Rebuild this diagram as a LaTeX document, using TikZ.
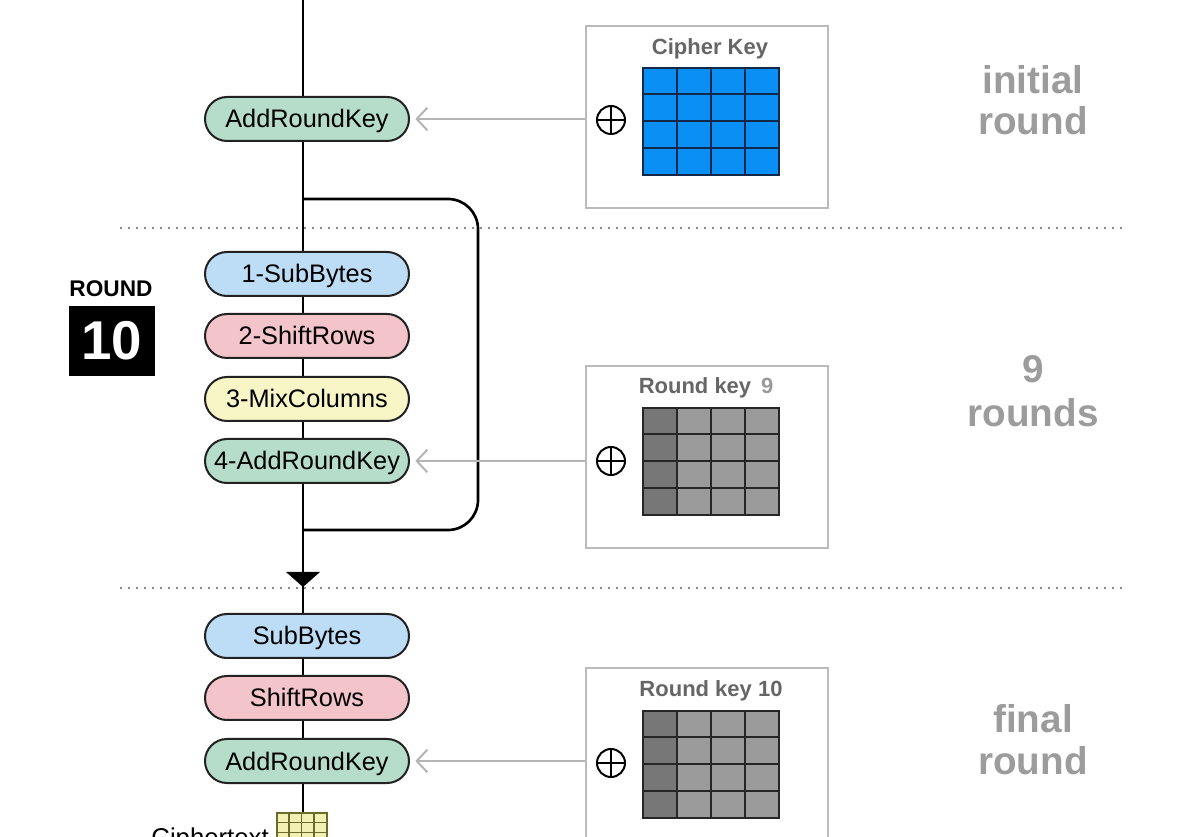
\documentclass[tikz,border=0pt]{standalone}
\usepackage{fontspec}
\setmainfont{Liberation Sans}
\usetikzlibrary{arrows.meta,shapes.misc,calc}
\definecolor{pillblue}{HTML}{BCDDF5}
\definecolor{pillpink}{HTML}{F3C4CA}
\definecolor{pillyellow}{HTML}{F8F6C6}
\definecolor{pillgreen}{HTML}{B6DDC9}
\definecolor{pillline}{HTML}{222222}
\definecolor{keyblue}{HTML}{0A90F5}
\definecolor{bluegridline}{HTML}{13294B}
\definecolor{keydark}{HTML}{777777}
\definecolor{keylight}{HTML}{9B9B9B}
\definecolor{boxgray}{HTML}{BBBBBB}
\definecolor{arrowgray}{HTML}{B4B4B4}
\definecolor{titlegray}{HTML}{666666}
\definecolor{numgray}{HTML}{9A9A9A}
\definecolor{labelgray}{HTML}{9C9C9C}
\definecolor{sepgray}{HTML}{8A8A8A}
\definecolor{ctfill}{HTML}{F3F0B4}
\definecolor{ctline}{HTML}{6B6B2A}
\begin{document}
\begin{tikzpicture}[x={(0.75pt,0)},y={(0,-0.75pt)},
  pill/.style={rounded rectangle, draw=pillline, line width=1.5pt,
    minimum width=153pt, minimum height=33pt, inner sep=0pt,
    text height=15.5pt, text depth=2pt,
    font=\fontsize{19}{22}\selectfont, text=black},
  keybox/.style={draw=boxgray, line width=1.5pt, fill=white,
    minimum width=181.5pt, minimum height=136.5pt, inner sep=0pt},
  flow/.style={line width=2pt, draw=black},
  keyarrow/.style={draw=arrowgray, line width=1.5pt, shorten >=4pt,
    -{Straight Barb[length=8pt,width=17pt]}},
  sepline/.style={draw=sepgray, line width=1.5pt, dash pattern=on 1.5pt off 4.5pt},
  xorc/.style={circle, draw=black, line width=1.5pt, minimum size=21pt, inner sep=0pt},
  keygrid/.style={minimum width=102pt, minimum height=80.25pt, inner sep=0pt},
  keytitle/.style={font=\fontsize{16.5}{18}\selectfont\bfseries, text=titlegray},
  sidelabel/.style={font=\fontsize{29}{33}\selectfont\bfseries, text=labelgray, anchor=base}
]
\useasboundingbox (0,0) rectangle (1204,837);
\clip (0,0) rectangle (1204,837);
\fill[white] (0,0) rectangle (1204,837);

% separators
\draw[sepline] (120,228) -- (1128,228);
\draw[sepline] (120,588) -- (1128,588);

% pills
\node[pill, fill=pillgreen] (ark0) at (307,119) {AddRoundKey};
\node[pill, fill=pillblue] (sb1) at (307,274) {1-SubBytes};
\node[pill, fill=pillpink] (sr1) at (307,336) {2-ShiftRows};
\node[pill, fill=pillyellow] (mc1) at (307,399) {3-MixColumns};
\node[pill, fill=pillgreen] (ark1) at (307,461) {4-AddRoundKey};
\node[pill, fill=pillblue] (sbF) at (307,636) {SubBytes};
\node[pill, fill=pillpink] (srF) at (307,698) {ShiftRows};
\node[pill, fill=pillgreen] (arkF) at (307,761) {AddRoundKey};

% ciphertext
\node[minimum width=37.5pt, minimum height=30pt, inner sep=0pt, fill=ctfill, draw=ctline, line width=0.8pt] (cg) at (302,833) {};
\foreach \i in {1,2,3} {\draw[ctline, line width=0.8pt] ($(cg.north west)+(\i*12.5,0)$) -- ++(0,40);}
\foreach \j in {1,2,3} {\draw[ctline, line width=0.8pt] ($(cg.north west)+(0,\j*10)$) -- ++(50,0);}
\node[anchor=base east, font=\fontsize{19.3}{22}\selectfont, inner sep=0pt] (ct) at (269,846) {Ciphertext};

% main flow
\coordinate (top) at (303,0);
\coordinate (ls) at (303,199);
\coordinate (le) at (303,530);
\draw[flow] (top) -- (top |- ark0.north);
\draw[flow] (ark0.south -| top) -- (sb1.north -| top);
\draw[flow] (sb1.south -| top) -- (sr1.north -| top);
\draw[flow] (sr1.south -| top) -- (mc1.north -| top);
\draw[flow] (mc1.south -| top) -- (ark1.north -| top);
\draw[flow] (ark1.south -| top) -- (sbF.north -| top);
\draw[flow] (sbF.south -| top) -- (srF.north -| top);
\draw[flow] (srF.south -| top) -- (arkF.north -| top);
\draw[flow] (arkF.south -| top) -- (cg.north -| top);
\draw[flow, rounded corners=22.5pt] (ls) -- (478,199) -- (478,530) -- (le);
\fill[black] (286,572) -- (320,572) -- (303,587) -- cycle;

% key boxes
\node[keybox] (kb0) at (707,117) {};
\node[keybox] (kb9) at (707,457) {};
\node[keybox] (kb10) at (707,759) {};

\node[keytitle] (t0) at (710,49) {Cipher Key};
\node[keytitle] (t9) at (706,388) {Round key\, \textcolor{numgray}{9}};
\node[keytitle] (t10) at (711,691) {Round key 10};

% xor symbols
\foreach \n/\y in {p0/120, p9/461, p10/763} {
  \node[xorc] (\n) at (611,\y) {};
  \draw[line width=1.5pt] (\n.north) -- (\n.south) (\n.west) -- (\n.east);
}

% grids
\node[keygrid, fill=keyblue] (g0) at (711,121.5) {};
\foreach \i in {1,2,3} {\draw[bluegridline, line width=1.5pt] ($(g0.north west)+(\i*34,0)$) -- ++(0,107);}
\foreach \j in {1,2,3} {\draw[bluegridline, line width=1.5pt] ($(g0.north west)+(0,\j*26.75)$) -- ++(136,0);}
\draw[bluegridline, line width=1.5pt] (g0.north west) rectangle (g0.south east);

\foreach \g/\y in {g9/461.5, g10/764.5} {
  \node[keygrid, fill=keylight] (\g) at (711,\y) {};
  \fill[keydark] (\g.north west) rectangle ++(34,107);
  \foreach \i in {1,2,3} {\draw[black!85, line width=1.5pt] ($(\g.north west)+(\i*34,0)$) -- ++(0,107);}
  \foreach \j in {1,2,3} {\draw[black!85, line width=1.5pt] ($(\g.north west)+(0,\j*26.75)$) -- ++(136,0);}
  \draw[black!85, line width=1.5pt] (\g.north west) rectangle (\g.south east);
}

% key arrows
\draw[keyarrow] (ark0.east -| kb0.west) -- (ark0.east);
\draw[keyarrow] (ark1.east -| kb9.west) -- (ark1.east);
\draw[keyarrow] (arkF.east -| kb10.west) -- (arkF.east);

% round badge
\node[font=\fontsize{17}{20}\selectfont\bfseries, anchor=base, inner sep=0pt] (rl) at (111,297) {ROUND};
\node[fill=black, text=white, minimum width=64.5pt, minimum height=52.5pt, inner sep=0pt,
  font=\fontsize{41}{44}\selectfont\bfseries] (rn) at (112,341) {10};

% side labels
\node[sidelabel] (l1a) at (1033,94) {initial};
\node[sidelabel] (l1b) at (1033,135) {round};
\node[sidelabel] (l2a) at (1033,383) {9};
\node[sidelabel] (l2b) at (1033,427) {rounds};
\node[sidelabel] (l3a) at (1033,733) {final};
\node[sidelabel] (l3b) at (1033,774) {round};
\end{tikzpicture}
\end{document}
